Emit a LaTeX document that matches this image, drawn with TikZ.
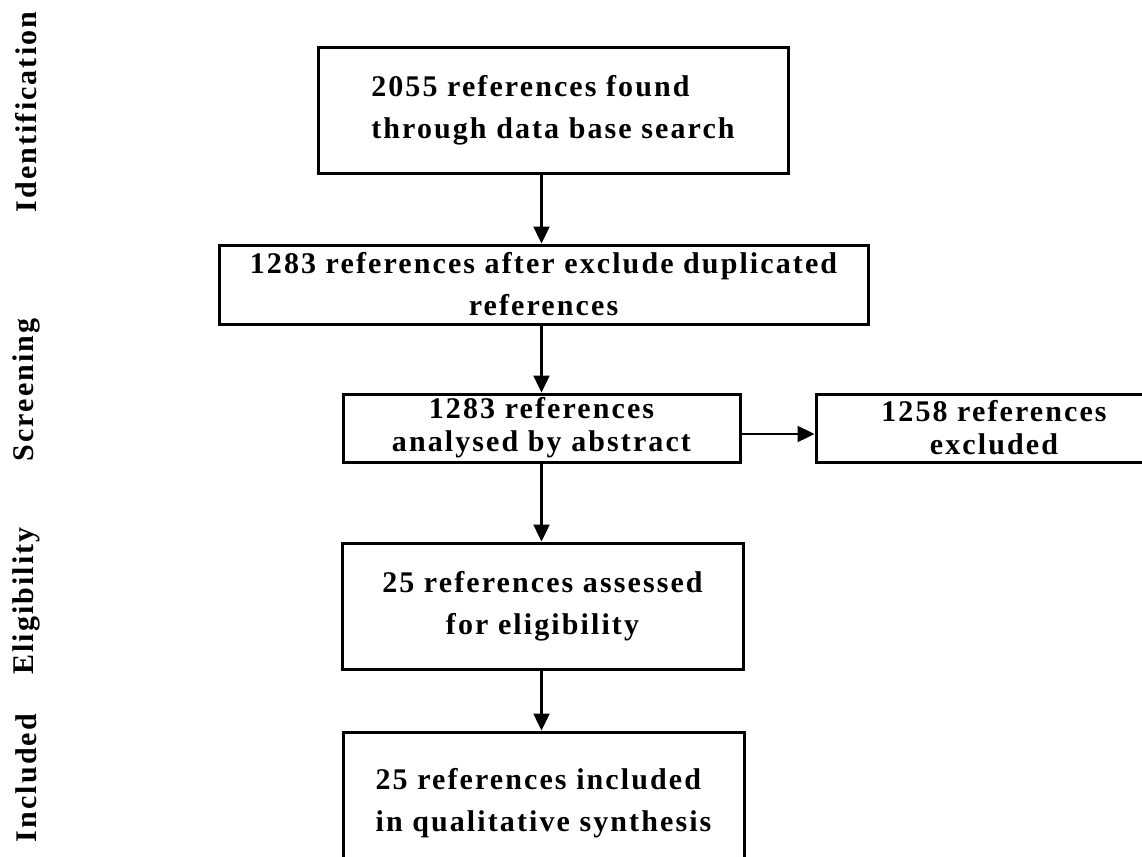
\documentclass[tikz,border=0pt]{standalone}
\usepackage{fontspec}
\setmainfont{Liberation Serif}
\newfontfamily\flowfont{Liberation Serif}[LetterSpace=7]
\usetikzlibrary{arrows.meta,positioning}

\begin{document}
\begin{tikzpicture}
    [
      x=0.5pt, y=-0.5pt,
      every node/.style={font=\flowfont\bfseries\fontsize{15}{21}\selectfont},
      stage/.style={draw,line width=1.5pt,inner sep=0pt,align=center},
      tight/.style={font=\flowfont\bfseries\fontsize{15}{16.5}\selectfont},
      phase/.style={rotate=90},
      flow/.style={-{Triangle[length=8.5pt,width=8pt]},line width=1.2pt},
    ]
    \clip (0,0) rectangle (1142,857);

    \node (find) [stage,align=left,minimum width=235pt,minimum height=63pt] at (553,110) {2055 references found\\through data base search};
    \node (dedup) [stage,minimum width=324.5pt,minimum height=39.5pt] at (543.5,284.5) {1283 references after exclude duplicated\\references};
    \node (screen) [stage,tight,minimum width=198.5pt,minimum height=34pt] at (541.5,428) {1283 references\\analysed by abstract};
    \node (excl) [stage,tight,minimum width=178pt,minimum height=34pt] at (994,428) {1258 references\\excluded};
    \node (elig) [stage,minimum width=200.5pt,minimum height=63pt] at (542.5,606) {25 references assessed\\for eligibility};
    \node (incl) [stage,align=left,minimum width=200.5pt,minimum height=71pt] at (543.5,803) {25 references included\\in qualitative synthesis};

    \node (ident) [phase] at (26,112) {Identification};
    \node (scr) [phase] at (26,390) {Screening};
    \node (eli) [phase] at (26,601) {Eligibility};
    \node (inc) [phase] at (26,778) {Included};

    \path
    (find.south -| screen) edge [flow] (dedup.north -| screen)
    (dedup.south -| screen) edge [flow] (screen.north)
    (screen.south) edge [flow] (screen.south |- elig.north)
    (elig.south -| screen) edge [flow] (incl.north -| screen)
    ([yshift=-3pt]screen.east) edge [flow] ([yshift=-3pt]excl.west)
    ;

  \end{tikzpicture}
\end{document}
